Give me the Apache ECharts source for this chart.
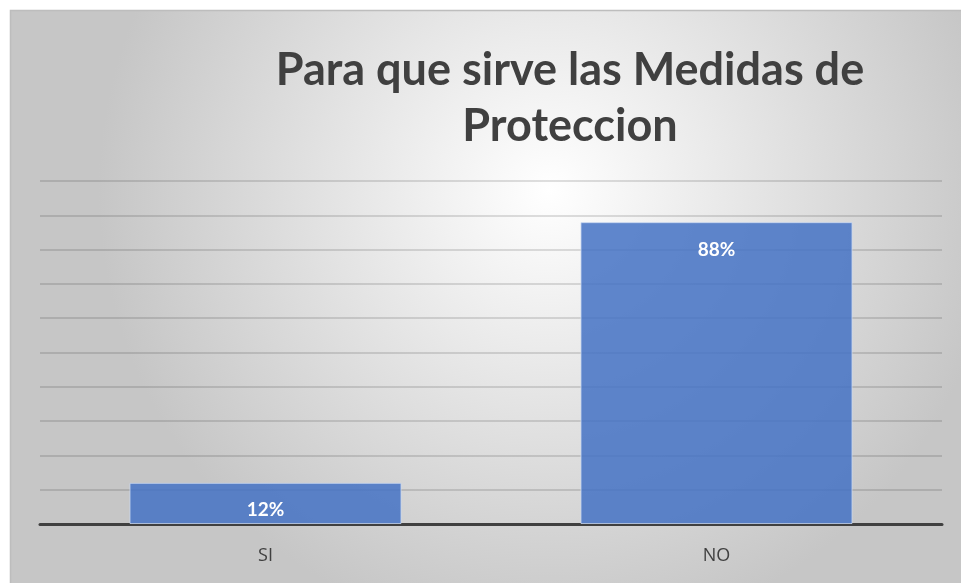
<!DOCTYPE html>
<html>
<head>
<meta charset="utf-8">
<script src="https://cdn.jsdelivr.net/npm/echarts@6/dist/echarts.min.js"></script>
<style>
  html, body { margin: 0; padding: 0; background: #fff; }
  #main { width: 961px; height: 583px; }
</style>
</head>
<body>
<div id="main"></div>
<script>
// chart data
const categories = ['SI', 'NO']
const values = [12, 88]
const titleText = 'Para que sirve las Medidas de\nProteccion'

var myChart = echarts.init(document.getElementById('main'))

const option = {
  backgroundColor: '#ffffff',
  animation: false,
  graphic: [
    {
      type: 'rect',
      z: -10,
      silent: true,
      shape: { x: 10.5, y: 10.5, width: 980, height: 600 },
      style: {
        fill: {
          type: 'radial',
          x: 0.55, y: 0.3, r: 0.75,
          colorStops: [
            { offset: 0, color: '#ffffff' },
            { offset: 1, color: '#c6c6c6' }
          ]
        },
        stroke: '#bdbdbd',
        lineWidth: 1.5
      }
    }
  ],
  title: {
    text: titleText,
    left: 565,
    top: 37,
    textAlign: 'center',
    textStyle: {
      fontFamily: 'Lato',
      fontWeight: 'bold',
      fontSize: 45,
      lineHeight: 56,
      color: '#404040'
    }
  },
  grid: {
    left: 40,
    right: 19,
    top: 181,
    bottom: 59,
    containLabel: false
  },
  xAxis: {
    type: 'category',
    data: categories,
    axisLine: { lineStyle: { color: '#404040', width: 3 } },
    axisTick: { show: false },
    axisLabel: {
      margin: 23,
      fontFamily: 'Open Sans',
      fontSize: 18,
      color: '#404040'
    }
  },
  yAxis: {
    type: 'value',
    min: 0,
    max: 100,
    interval: 10,
    axisLabel: { show: false },
    axisLine: { show: false },
    axisTick: { show: false },
    splitLine: { lineStyle: { color: 'rgba(0,0,0,0.17)', width: 1.5 } }
  },
  series: [
    {
      type: 'bar',
      data: values,
      barWidth: 272,
      itemStyle: {
        color: 'rgba(68,114,196,0.85)',
        borderColor: 'rgba(200,215,240,0.8)',
        borderWidth: 1
      },
      label: {
        show: true,
        position: 'insideTop',
        distance: 18,
        formatter: '{c}%',
        fontFamily: 'Lato',
        fontWeight: 'bold',
        fontSize: 19,
        color: '#ffffff'
      }
    }
  ]
}

myChart.setOption(option)
</script>
</body>
</html>
